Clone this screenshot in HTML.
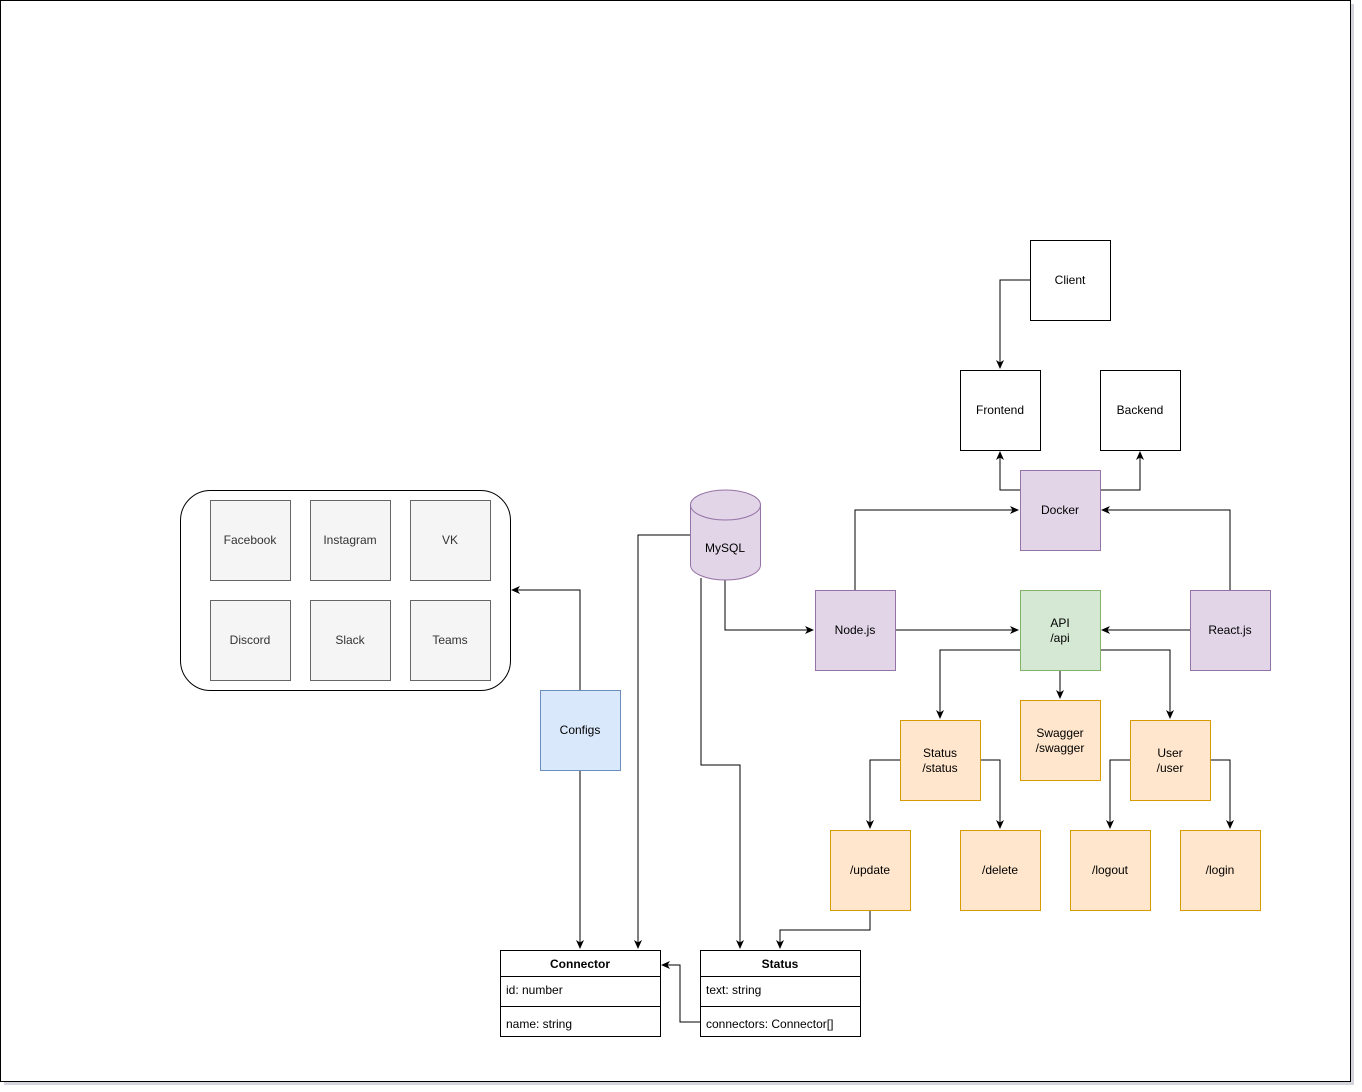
<!DOCTYPE html>
<html><head><meta charset="utf-8"><style>
html,body{margin:0;padding:0;background:#fff;}
svg{display:block;}
text{font-family:"Liberation Sans",Arial,sans-serif;font-size:12px;}
</style></head><body>
<svg width="1362" height="1092" viewBox="0 0 1362 1092" xmlns="http://www.w3.org/2000/svg">
<defs>
<marker id="a" markerWidth="10" markerHeight="10" refX="8" refY="5" orient="auto" markerUnits="userSpaceOnUse">
<path d="M0,1 L9,5 L0,9 L2.5,5 Z" fill="#000"/>
</marker>
</defs>
<rect x="4" y="4" width="1350" height="1081" fill="#d4d4dc"/>
<rect x="0.5" y="0.5" width="1350" height="1081" fill="#fff" stroke="#000"/>

<g stroke="#000" fill="none" stroke-width="1">
<path d="M1030,280 H1000 V368" marker-end="url(#a)"/>
<path d="M1020,490 H1000 V452" marker-end="url(#a)"/>
<path d="M1100,490 H1140 V452" marker-end="url(#a)"/>
<path d="M855,590 V510 H1018" marker-end="url(#a)"/>
<path d="M1230,590 V510 H1102" marker-end="url(#a)"/>
<path d="M725,580 V630 H813" marker-end="url(#a)"/>
<path d="M895,630 H1018" marker-end="url(#a)"/>
<path d="M1190,630 H1102" marker-end="url(#a)"/>
<path d="M1020,650 H940 V718" marker-end="url(#a)"/>
<path d="M1060,670 V698" marker-end="url(#a)"/>
<path d="M1100,650 H1170 V718" marker-end="url(#a)"/>
<path d="M900,760 H870 V828" marker-end="url(#a)"/>
<path d="M980,760 H1000 V828" marker-end="url(#a)"/>
<path d="M1130,760 H1110 V828" marker-end="url(#a)"/>
<path d="M1210,760 H1230 V828" marker-end="url(#a)"/>
<path d="M870,910 V930 H780 V948" marker-end="url(#a)"/>
<path d="M690,535 H638 V948" marker-end="url(#a)"/>
<path d="M701,578 V765 H740 V948" marker-end="url(#a)"/>
<path d="M580,690 V590 H512" marker-end="url(#a)"/>
<path d="M580,770 V948" marker-end="url(#a)"/>
<path d="M700,1022 H680 V965 H662" marker-end="url(#a)"/>
</g>

<g stroke="#000" fill="#fff">
<rect x="1030.5" y="240.5" width="80" height="80"/>
<rect x="960.5" y="370.5" width="80" height="80"/>
<rect x="1100.5" y="370.5" width="80" height="80"/>
</g>
<g stroke="#9673a6" fill="#e1d5e7">
<rect x="1020.5" y="470.5" width="80" height="80"/>
<rect x="815.5" y="590.5" width="80" height="80"/>
<rect x="1190.5" y="590.5" width="80" height="80"/>
<path d="M690.5,505 A35,15 0 0 1 760.5,505 V565 A35,15 0 0 1 690.5,565 Z"/>
<path d="M690.5,505 A35,15 0 0 0 760.5,505" fill="none"/>
</g>
<rect x="1020.5" y="590.5" width="80" height="80" fill="#d5e8d4" stroke="#82b366"/>
<g stroke="#d79b00" fill="#ffe6cc">
<rect x="900.5" y="720.5" width="80" height="80"/>
<rect x="1020.5" y="700.5" width="80" height="80"/>
<rect x="1130.5" y="720.5" width="80" height="80"/>
<rect x="830.5" y="830.5" width="80" height="80"/>
<rect x="960.5" y="830.5" width="80" height="80"/>
<rect x="1070.5" y="830.5" width="80" height="80"/>
<rect x="1180.5" y="830.5" width="80" height="80"/>
</g>
<rect x="540.5" y="690.5" width="80" height="80" fill="#dae8fc" stroke="#6c8ebf"/>
<rect x="180.5" y="490.5" width="330" height="200" rx="30" fill="#fff" stroke="#000"/>
<g stroke="#666" fill="#f5f5f5">
<rect x="210.5" y="500.5" width="80" height="80"/>
<rect x="310.5" y="500.5" width="80" height="80"/>
<rect x="410.5" y="500.5" width="80" height="80"/>
<rect x="210.5" y="600.5" width="80" height="80"/>
<rect x="310.5" y="600.5" width="80" height="80"/>
<rect x="410.5" y="600.5" width="80" height="80"/>
</g>
<g stroke="#000" fill="#fff">
<rect x="500.5" y="950.5" width="160" height="86"/>
<path d="M500.5,976.5 H660.5 M500.5,1006.5 H660.5"/>
<rect x="700.5" y="950.5" width="160" height="86"/>
<path d="M700.5,976.5 H860.5 M700.5,1006.5 H860.5"/>
</g>

<g text-anchor="middle" fill="#000">
<text x="1070" y="284">Client</text>
<text x="1000" y="414">Frontend</text>
<text x="1140" y="414">Backend</text>
<text x="1060" y="514">Docker</text>
<text x="855" y="634">Node.js</text>
<text x="1230" y="634">React.js</text>
<text x="725" y="552">MySQL</text>
<text x="1060" y="627">API</text>
<text x="1060" y="642">/api</text>
<text x="940" y="757">Status</text>
<text x="940" y="772">/status</text>
<text x="1060" y="737">Swagger</text>
<text x="1060" y="752">/swagger</text>
<text x="1170" y="757">User</text>
<text x="1170" y="772">/user</text>
<text x="870" y="874">/update</text>
<text x="1000" y="874">/delete</text>
<text x="1110" y="874">/logout</text>
<text x="1220" y="874">/login</text>
<text x="580" y="734">Configs</text>
<g fill="#333">
<text x="250" y="544">Facebook</text>
<text x="350" y="544">Instagram</text>
<text x="450" y="544">VK</text>
<text x="250" y="644">Discord</text>
<text x="350" y="644">Slack</text>
<text x="450" y="644">Teams</text>
</g>
<text x="580" y="968" font-weight="bold">Connector</text>
<text x="780" y="968" font-weight="bold">Status</text>
</g>
<g fill="#000">
<text x="506" y="994">id: number</text>
<text x="506" y="1028">name: string</text>
<text x="706" y="994">text: string</text>
<text x="706" y="1028">connectors: Connector[]</text>
</g>
</svg>
</body></html>
